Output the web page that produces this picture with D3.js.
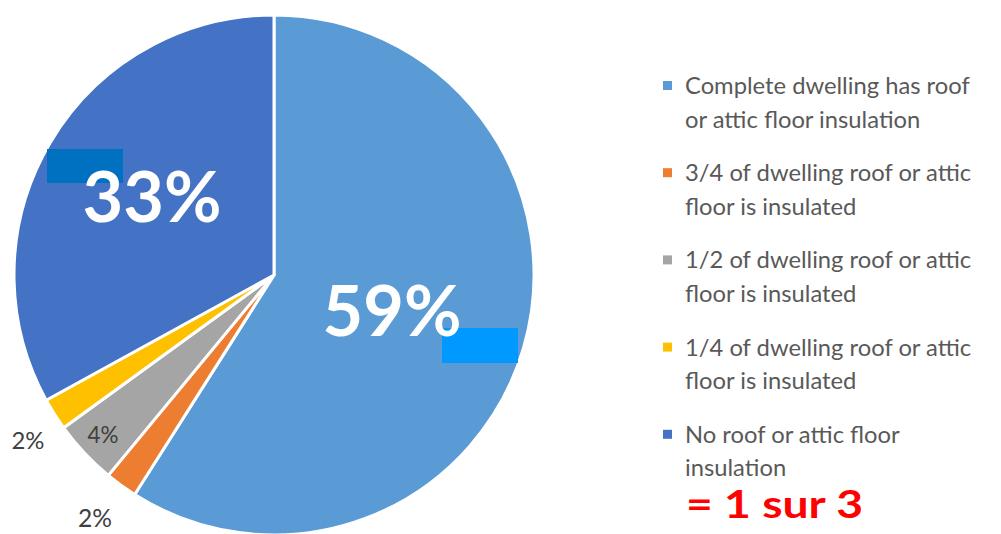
<!DOCTYPE html>
<html><head><meta charset="utf-8">
<script src="https://cdn.jsdelivr.net/npm/d3@7"></script>
<style>html,body{margin:0;padding:0;background:#fff;overflow:hidden}</style>
</head><body>
<svg id="c" width="1001" height="534"></svg>
<script>
const categories = [
  "Complete dwelling has roof or attic floor insulation",
  "3/4 of dwelling roof or attic floor is insulated",
  "1/2 of dwelling roof or attic floor is insulated",
  "1/4 of dwelling roof or attic floor is insulated",
  "No roof or attic floor insulation"
];
const values = [59, 2, 4, 2, 33];
const valueLabels = ["59%", "2%", "4%", "2%", "33%"];
const legendLines = [
  ["Complete dwelling has roof", "or attic floor insulation"],
  ["3/4 of dwelling roof or attic", "floor is insulated"],
  ["1/2 of dwelling roof or attic", "floor is insulated"],
  ["1/4 of dwelling roof or attic", "floor is insulated"],
  ["No roof or attic floor", "insulation"]
];
const colors = ["#5B9BD5", "#ED7D31", "#A5A5A5", "#FFC000", "#4472C4"];
const note = "= 1 sur 3";

const svg = d3.select("#c");
const font = "Lato, 'Open Sans', sans-serif";
const cx = 274, cy = 275, R = 260;

const pie = d3.pie().sort(null).value(d => d)(values);
const arc = d3.arc().innerRadius(0).outerRadius(R);
const g = svg.append("g").attr("transform", `translate(${cx},${cy})`);
g.selectAll("path").data(pie).join("path")
  .attr("d", arc).attr("fill", (d, i) => colors[i])
  .attr("stroke", "#fff").attr("stroke-width", 3).attr("stroke-linejoin", "miter");

// overlay rectangles (annotation artifacts)
svg.append("rect").attr("x", 47).attr("y", 149).attr("width", 76).attr("height", 34).attr("fill", "#0070C0");
svg.append("rect").attr("x", 442).attr("y", 328).attr("width", 76).attr("height", 35).attr("fill", "#0099FF");

function fit(t, w) {
  const fs = parseFloat(t.attr("font-size"));
  const len = t.node().getComputedTextLength();
  t.attr("font-size", fs * w / len);
  return t;
}

// value labels: [x center, baseline, width, color, size, weight]
const labelPos = [
  [392, 336, 139, "#fff", 64, 700],
  [95, 527, 34, "#404040", 20, 400],
  [103, 443, 31, "#404040", 20, 400],
  [28, 449, 33, "#404040", 20, 400],
  [152, 222, 139, "#fff", 64, 700]
];
labelPos.forEach((p, i) => {
  const t = svg.append("text").text(valueLabels[i])
    .attr("x", p[0]).attr("y", p[1]).attr("text-anchor", "middle")
    .attr("font-family", font).attr("font-weight", p[5])
    .attr("fill", p[3]).attr("font-size", p[4]);
  fit(t, p[2]);
});

// legend
const lg = svg.append("g");
const legTop = 94, legStep = 87.2, lineH = 33.5;
legendLines.forEach((lines, i) => {
  const y = legTop + i * legStep;
  lg.append("rect").attr("x", 663).attr("y", y - 13).attr("width", 9).attr("height", 9).attr("fill", colors[i]);
  lines.forEach((s, j) => {
    lg.append("text").text(s).attr("x", 685).attr("y", y + j * lineH)
      .attr("font-family", font).attr("font-size", 21).attr("fill", "#595959");
  });
});
// fit first line width
const first = lg.select("text");
const fsz = 21 * 285 / first.node().getComputedTextLength();
lg.selectAll("text").attr("font-size", fsz);

svg.append("text").text(note).attr("x", 686).attr("y", 518)
  .attr("font-family", font).attr("font-weight", 700).attr("font-size", 38)
  .attr("textLength", 177).attr("lengthAdjust", "spacingAndGlyphs")
  .attr("fill", "#FF0000");
</script>
</body></html>
